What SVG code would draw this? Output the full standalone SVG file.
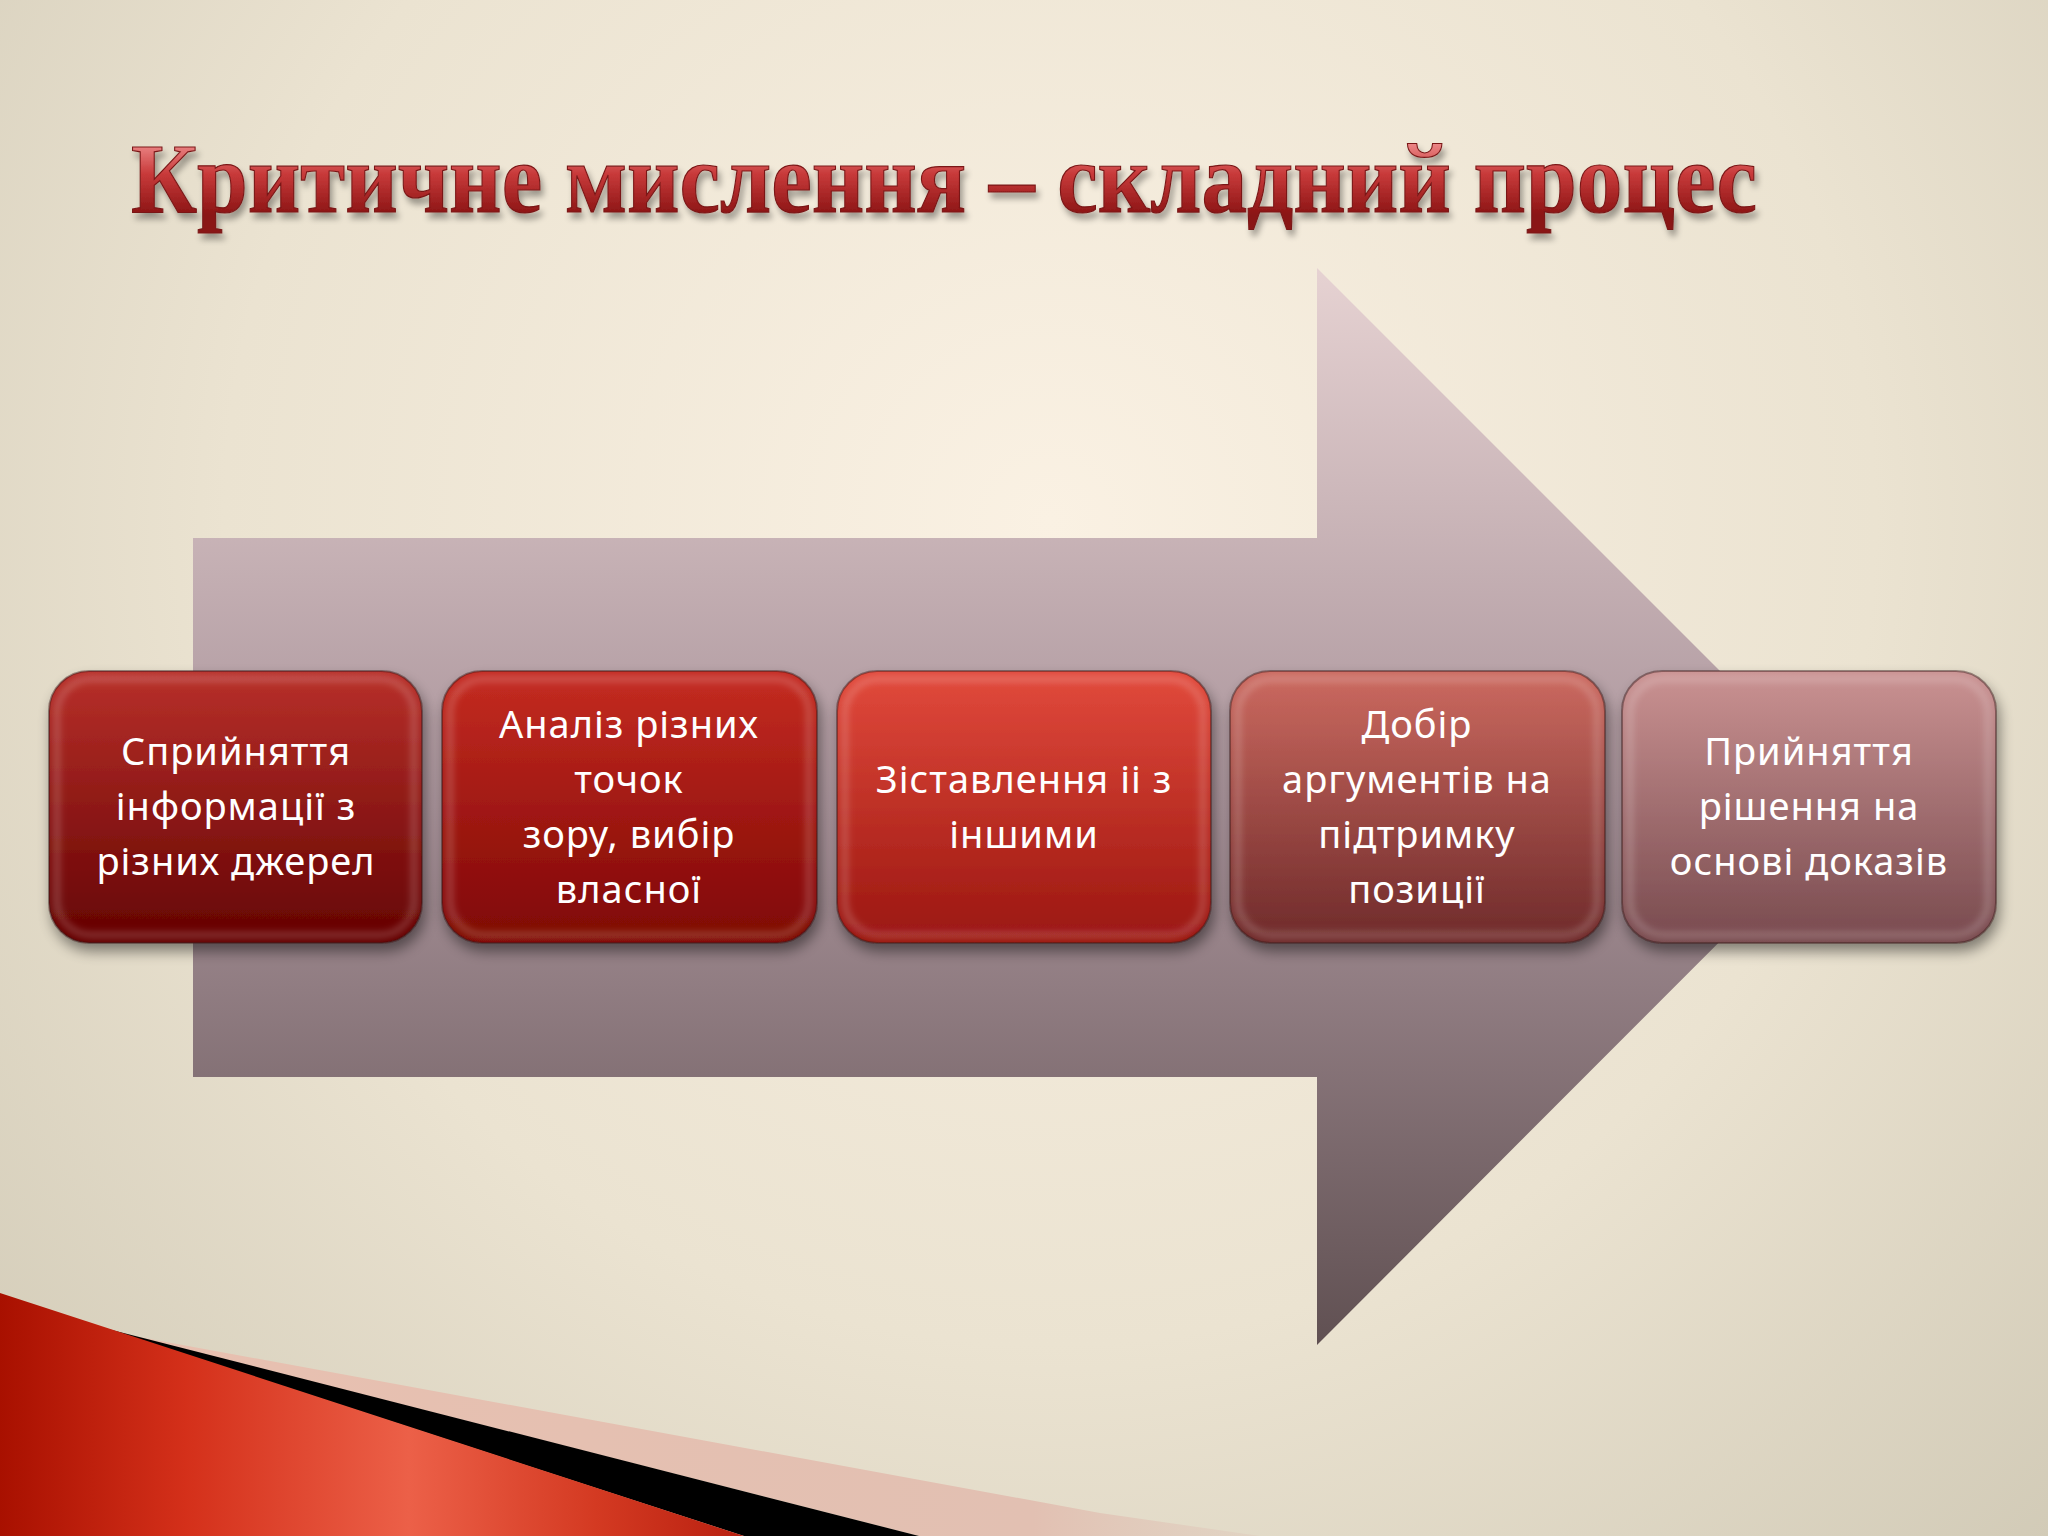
<svg xmlns="http://www.w3.org/2000/svg" width="2048" height="1536" viewBox="0 0 2048 1536">
<defs>
  <radialGradient id="bg" cx="1050" cy="520" r="1500" gradientUnits="userSpaceOnUse">
    <stop offset="0" stop-color="#faf1e3"/>
    <stop offset="0.55" stop-color="#ebe3d1"/>
    <stop offset="1" stop-color="#cfc8b4"/>
  </radialGradient>
  <linearGradient id="arrowFill" x1="0" y1="268" x2="0" y2="1345" gradientUnits="userSpaceOnUse">
    <stop offset="0" stop-color="#e6d2d2"/>
    <stop offset="0.5" stop-color="#a9939a"/>
    <stop offset="1" stop-color="#605052"/>
  </linearGradient>
  <linearGradient id="titleFill" x1="0" y1="140" x2="0" y2="215" gradientUnits="userSpaceOnUse">
    <stop offset="0" stop-color="#f09090"/>
    <stop offset="0.45" stop-color="#c83a3a"/>
    <stop offset="1" stop-color="#8a1414"/>
  </linearGradient>
  <linearGradient id="g1" x1="0" y1="0" x2="0" y2="1">
    <stop offset="0" stop-color="#b8302a"/>
    <stop offset="1" stop-color="#640202"/>
  </linearGradient>
  <linearGradient id="g2" x1="0" y1="0" x2="0" y2="1">
    <stop offset="0" stop-color="#c52c22"/>
    <stop offset="1" stop-color="#7e0604"/>
  </linearGradient>
  <linearGradient id="g3" x1="0" y1="0" x2="0" y2="1">
    <stop offset="0" stop-color="#e24a3c"/>
    <stop offset="1" stop-color="#9a1610"/>
  </linearGradient>
  <linearGradient id="g4" x1="0" y1="0" x2="0" y2="1">
    <stop offset="0" stop-color="#cc6a60"/>
    <stop offset="1" stop-color="#6e2a2a"/>
  </linearGradient>
  <linearGradient id="g5" x1="0" y1="0" x2="0" y2="1">
    <stop offset="0" stop-color="#ca9292"/>
    <stop offset="1" stop-color="#784a4e"/>
  </linearGradient>
  <linearGradient id="redSwoosh" x1="0" y1="0" x2="1" y2="0">
    <stop offset="0" stop-color="#a81000"/>
    <stop offset="0.25" stop-color="#d4301a"/>
    <stop offset="0.55" stop-color="#ec6048"/>
    <stop offset="0.8" stop-color="#d43a22"/>
    <stop offset="1" stop-color="#b82010"/>
  </linearGradient>
  <linearGradient id="pinkBand" x1="0" y1="0" x2="1" y2="0">
    <stop offset="0" stop-color="#e8c0b0"/>
    <stop offset="0.8" stop-color="#e2c0b2"/>
    <stop offset="1" stop-color="#e0cfc0" stop-opacity="0.6"/>
  </linearGradient>
  <filter id="shadow" x="-10%" y="-10%" width="125%" height="130%">
    <feGaussianBlur in="SourceAlpha" stdDeviation="7"/>
    <feOffset dx="3" dy="8" result="b"/>
    <feComponentTransfer><feFuncA type="linear" slope="0.45"/></feComponentTransfer>
    <feMerge><feMergeNode/><feMergeNode in="SourceGraphic"/></feMerge>
  </filter>
  <filter id="soft" x="-5%" y="-5%" width="110%" height="110%">
    <feGaussianBlur stdDeviation="3"/>
  </filter>
  <filter id="tshadow" x="-5%" y="-30%" width="110%" height="170%">
    <feGaussianBlur in="SourceAlpha" stdDeviation="3"/>
    <feOffset dx="3" dy="6"/>
    <feComponentTransfer><feFuncA type="linear" slope="0.35"/></feComponentTransfer>
    <feMerge><feMergeNode/><feMergeNode in="SourceGraphic"/></feMerge>
  </filter>
  <style>
    .box { stroke: rgba(50,20,20,0.45); stroke-width: 2; filter: url(#shadow); }
    .bevel { fill: none; stroke: rgba(255,255,255,0.16); stroke-width: 8; filter: url(#soft); }
    .lbl { font-family: "Noto Sans", "DejaVu Sans", sans-serif; font-size: 38px; fill: #ffffff; text-anchor: middle; letter-spacing: 1px; }
    .title { font-family: "Liberation Serif", "Times New Roman", serif; font-weight: bold; font-size: 100px; fill: url(#titleFill); stroke: #7a1818; stroke-width: 1.2; }
  </style>
</defs>

<rect id="background" x="0" y="0" width="2048" height="1536" fill="url(#bg)"/>

<g id="decoration">
  <polygon points="128,1335 1100,1513 1260,1536 919,1536" fill="url(#pinkBand)"/>
  <polygon points="100,1327 919,1536 744,1536" fill="#000000"/>
  <polygon points="0,1293 744,1536 0,1536" fill="url(#redSwoosh)"/>
</g>

<g id="title" filter="url(#tshadow)">
  <text class="title" x="944" y="212" text-anchor="middle" textLength="1626" lengthAdjust="spacingAndGlyphs">Критичне мислення – складний процес</text>
</g>

<g id="big-arrow">
  <polygon points="193,538 1317,538 1317,268 1855,806 1317,1345 1317,1077 193,1077" fill="url(#arrowFill)"/>
</g>

<g id="connectors"></g>

<g id="node1">
  <rect class="box" x="49" y="671" width="373" height="272" rx="40" fill="url(#g1)"/>
  <rect class="bevel" x="57" y="679" width="357" height="256" rx="34"/>
  <text class="lbl" x="236" y="765">Сприйняття</text>
  <text class="lbl" x="236" y="820">інформації з</text>
  <text class="lbl" x="236" y="875">різних джерел</text>
</g>

<g id="node2">
  <rect class="box" x="442" y="671" width="375" height="272" rx="40" fill="url(#g2)"/>
  <rect class="bevel" x="450" y="679" width="359" height="256" rx="34"/>
  <text class="lbl" x="629" y="738">Аналіз різних</text>
  <text class="lbl" x="629" y="793">точок</text>
  <text class="lbl" x="629" y="848">зору, вибір</text>
  <text class="lbl" x="629" y="903">власної</text>
</g>

<g id="node3">
  <rect class="box" x="837" y="671" width="374" height="272" rx="40" fill="url(#g3)"/>
  <rect class="bevel" x="845" y="679" width="358" height="256" rx="34"/>
  <text class="lbl" x="1024" y="793">Зіставлення іі з</text>
  <text class="lbl" x="1024" y="848">іншими</text>
</g>

<g id="node4">
  <rect class="box" x="1230" y="671" width="375" height="272" rx="40" fill="url(#g4)"/>
  <rect class="bevel" x="1238" y="679" width="359" height="256" rx="34"/>
  <text class="lbl" x="1417" y="738">Добір</text>
  <text class="lbl" x="1417" y="793">аргументів на</text>
  <text class="lbl" x="1417" y="848">підтримку</text>
  <text class="lbl" x="1417" y="903">позиції</text>
</g>

<g id="node5">
  <rect class="box" x="1622" y="671" width="374" height="272" rx="40" fill="url(#g5)"/>
  <rect class="bevel" x="1630" y="679" width="358" height="256" rx="34"/>
  <text class="lbl" x="1809" y="765">Прийняття</text>
  <text class="lbl" x="1809" y="820">рішення на</text>
  <text class="lbl" x="1809" y="875">основі доказів</text>
</g>
</svg>
